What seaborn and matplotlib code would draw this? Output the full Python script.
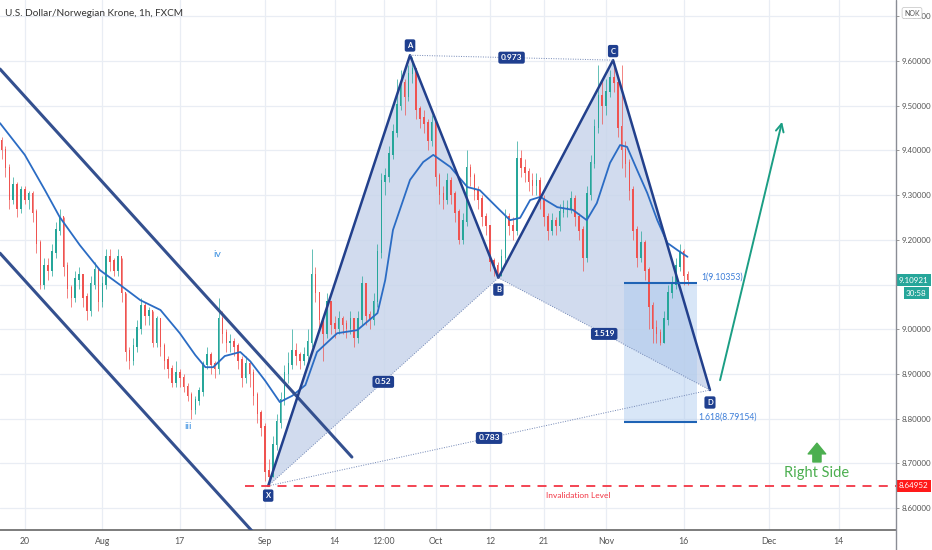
import numpy as np
import matplotlib
matplotlib.use("Agg")
import matplotlib.pyplot as plt
import seaborn as sns
from matplotlib.patches import Polygon, Rectangle
from matplotlib.lines import Line2D

# x axis = trading days counted from Sep 1 (weekends compressed, as on the chart)
first_open = 9.42
closes = [
    9.40, 9.36, 9.29, 9.32, 9.27, 9.31, 9.29, 9.30, 9.26, 9.19,
    9.10, 9.14, 9.13, 9.17, 9.22, 9.25, 9.14, 9.09, 9.07, 9.11,
    9.12, 9.07, 9.04, 9.10, 9.13, 9.06, 9.10, 9.16, 9.15, 9.13,
    9.16, 9.08, 8.95, 8.93, 8.96, 9.00, 9.05, 9.03, 9.04, 8.97,
    9.02, 8.96, 8.93, 8.91, 8.88, 8.90, 8.89, 8.87, 8.85, 8.82,
    8.84, 8.86, 8.92, 8.94, 8.92, 8.91, 9.02, 8.99, 8.97, 8.97,
    8.96, 8.93, 8.89, 8.92, 8.90, 8.85, 8.81, 8.78, 8.68, 8.67,
    8.74, 8.79, 8.84, 8.90, 8.92, 8.95, 8.94, 8.93, 8.94, 8.97,
    9.12, 9.08, 9.02, 8.99, 9.06, 9.01, 9.00, 9.02, 9.01, 9.00,
    9.02, 8.98, 9.02, 9.10, 9.03, 9.02, 9.06, 9.17, 9.33, 9.34,
    9.39, 9.44, 9.50, 9.55, 9.52, 9.57, 9.58, 9.49, 9.47, 9.46,
    9.42, 9.46, 9.34, 9.30, 9.29, 9.33, 9.30, 9.26, 9.20, 9.24,
    9.36, 9.34, 9.31, 9.29, 9.25, 9.23, 9.15, 9.14, 9.12, 9.16,
    9.25, 9.23, 9.22, 9.38, 9.36, 9.35, 9.33, 9.32, 9.33, 9.29,
    9.25, 9.22, 9.24, 9.23, 9.26, 9.27, 9.27, 9.29, 9.25, 9.22,
    9.16, 9.30, 9.37, 9.45, 9.52, 9.50, 9.53, 9.56, 9.55, 9.45,
    9.40, 9.37, 9.31, 9.22, 9.16, 9.19, 9.13, 9.05, 9.00, 8.99,
    8.97, 9.02, 9.08, 9.10, 9.14, 9.17, 9.12, 9.11,
]
highs = [
    9.43, 9.41, 9.37, 9.34, 9.33, 9.32, 9.32, 9.31, 9.31, 9.27,
    9.20, 9.16, 9.16, 9.19, 9.24, 9.27, 9.25, 9.15, 9.10, 9.13,
    9.14, 9.12, 9.08, 9.12, 9.15, 9.13, 9.12, 9.18, 9.18, 9.16,
    9.18, 9.16, 9.08, 8.96, 8.98, 9.02, 9.07, 9.06, 9.05, 9.04,
    9.03, 9.02, 8.97, 8.94, 8.92, 8.93, 8.91, 8.90, 8.88, 8.86,
    8.85, 8.87, 8.93, 8.96, 8.95, 8.93, 9.07, 9.04, 9.00, 8.99,
    8.98, 8.97, 8.94, 8.94, 8.93, 8.91, 8.86, 8.82, 8.79, 8.71,
    8.76, 8.81, 8.86, 8.92, 8.95, 9.00, 8.97, 8.95, 8.96, 9.00,
    9.18, 9.14, 9.08, 9.02, 9.08, 9.06, 9.03, 9.04, 9.03, 9.02,
    9.04, 9.02, 9.04, 9.12, 9.10, 9.04, 9.08, 9.19, 9.35, 9.36,
    9.41, 9.46, 9.56, 9.58, 9.56, 9.59, 9.61, 9.58, 9.50, 9.49,
    9.47, 9.48, 9.46, 9.35, 9.32, 9.35, 9.34, 9.31, 9.27, 9.26,
    9.40, 9.37, 9.35, 9.32, 9.30, 9.26, 9.23, 9.16, 9.15, 9.18,
    9.27, 9.26, 9.25, 9.42, 9.40, 9.38, 9.36, 9.35, 9.35, 9.34,
    9.30, 9.26, 9.26, 9.25, 9.28, 9.29, 9.29, 9.31, 9.30, 9.26,
    9.23, 9.32, 9.39, 9.47, 9.59, 9.56, 9.56, 9.58, 9.60, 9.56,
    9.59, 9.42, 9.38, 9.32, 9.23, 9.22, 9.20, 9.14, 9.06, 9.02,
    9.00, 9.04, 9.10, 9.12, 9.16, 9.19, 9.18, 9.13,
]
lows = [
    9.38, 9.34, 9.27, 9.28, 9.25, 9.26, 9.28, 9.27, 9.24, 9.17,
    9.09, 9.09, 9.11, 9.12, 9.16, 9.21, 9.12, 9.07, 9.05, 9.06,
    9.09, 9.05, 9.02, 9.03, 9.09, 9.04, 9.05, 9.09, 9.13, 9.12,
    9.12, 9.06, 8.93, 8.91, 8.92, 8.95, 8.99, 9.01, 9.01, 8.96,
    8.96, 8.94, 8.91, 8.89, 8.87, 8.87, 8.87, 8.86, 8.84, 8.80,
    8.81, 8.83, 8.85, 8.91, 8.90, 8.89, 8.90, 8.97, 8.95, 8.95,
    8.94, 8.91, 8.87, 8.88, 8.87, 8.83, 8.79, 8.76, 8.66, 8.65,
    8.67, 8.73, 8.78, 8.83, 8.88, 8.91, 8.92, 8.91, 8.92, 8.93,
    8.96, 9.06, 9.00, 8.93, 8.98, 8.99, 8.98, 8.99, 8.99, 8.98,
    8.99, 8.96, 8.97, 9.01, 9.01, 9.00, 9.01, 9.05, 9.16, 9.30,
    9.33, 9.38, 9.43, 9.49, 9.48, 9.51, 9.55, 9.47, 9.45, 9.44,
    9.40, 9.41, 9.32, 9.28, 9.27, 9.28, 9.28, 9.24, 9.19, 9.19,
    9.23, 9.32, 9.29, 9.27, 9.23, 9.21, 9.13, 9.12, 9.115, 9.12,
    9.15, 9.21, 9.20, 9.21, 9.34, 9.33, 9.31, 9.30, 9.30, 9.27,
    9.23, 9.20, 9.21, 9.21, 9.22, 9.25, 9.25, 9.26, 9.23, 9.20,
    9.13, 9.15, 9.29, 9.36, 9.44, 9.46, 9.48, 9.52, 9.53, 9.43,
    9.36, 9.34, 9.29, 9.20, 9.14, 9.15, 9.11, 9.00, 8.97, 8.97,
    8.965, 8.97, 9.01, 9.07, 9.09, 9.13, 9.10, 9.10,
]
candle_days = np.arange(-34.0, 54.6, 0.5)

ma_days = [-34.2, -31.0, -28.4, -26.5, -23.9, -21.3, -18.7, -16.1, -13.5, -11.0,
           -9.0, -7.7, -6.7, -5.2, -3.2, -1.9, 0.0, 1.9, 3.5, 5.2,
           6.7, 9.3, 11.9, 14.5, 15.5, 16.5, 18.7, 20.4, 21.7, 23.9,
           26.1, 27.7, 29.9, 31.6, 32.9, 34.2, 35.5, 37.7, 39.7, 41.5,
           42.8, 44.5, 45.8, 46.7, 48.0, 49.3, 50.6, 51.9, 53.2, 54.5]
ma_vals = [9.461, 9.390, 9.311, 9.251, 9.188, 9.132, 9.099, 9.065, 9.043, 8.991,
           8.942, 8.915, 8.915, 8.940, 8.949, 8.928, 8.885, 8.837, 8.851, 8.875,
           8.949, 8.991, 8.998, 9.036, 9.110, 9.222, 9.334, 9.374, 9.390, 9.363,
           9.318, 9.311, 9.273, 9.244, 9.249, 9.289, 9.296, 9.273, 9.267, 9.244,
           9.282, 9.372, 9.412, 9.408, 9.356, 9.305, 9.244, 9.193, 9.177, 9.162]

# XABCD pattern points (day, price)
pattern_names = ["X", "A", "B", "C", "D"]
pattern_days = [0.4, 18.7, 30.1, 44.9, 57.4]
pattern_prices = [8.6495, 9.613, 9.115, 9.602, 8.864]
ratio_labels = {"0.52": ("X", "B"), "0.973": ("A", "C"),
                "1.519": ("B", "D"), "0.783": ("X", "D")}

# descending channel (day, price) end points
channel_upper = [(-34.2, 9.582), (11.2, 8.714)]
channel_lower = [(-34.2, 9.170), (-1.5, 8.545)]

invalidation = 8.64952
last_price = 9.10921
box_days = [46.3, 55.7]
box_prices = [8.79154, 9.10353]
target_arrow = [(58.7, 8.886), (66.7, 9.464)]

x_tick_days = [-31, -21, -11, 0, 9, 15.3, 22, 29, 36, 44, 54, 65, 74]
x_tick_labels = ["20", "Aug", "17", "Sep", "14", "12:00", "Oct", "12", "21",
                 "Nov", "16", "Dec", "14"]
price_grid = [8.6, 8.7, 8.8, 8.9, 9.0, 9.1, 9.2, 9.3, 9.4, 9.5, 9.6, 9.7]

UP = "#26a69a"
DOWN = "#ef5350"
NAVY = "#1f3f8f"
AXIS_FONT = ["Liberation Sans Narrow", "Lato", "DejaVu Sans"]


def main():
    sns.set_style("white")
    plt.rcParams["font.family"] = ["Lato", "DejaVu Sans"]

    fig = plt.figure(figsize=(9.32, 5.5), dpi=100)
    ax = fig.add_axes([0, 20 / 550, 896 / 932, 530 / 550])
    ax.set_xlim(-34.2, 81.4)
    ax.set_ylim(8.5508, 9.7365)

    # grid
    for p in price_grid:
        ax.axhline(p, color="#e9edf4", lw=0.9, zorder=0)
    for d in x_tick_days:
        ax.axvline(d, color="#e9edf4", lw=0.9, zorder=0)

    # pattern fills
    pts = dict(zip(pattern_names, zip(pattern_days, pattern_prices)))
    ax.add_patch(Polygon([pts["X"], pts["A"], pts["B"]], closed=True,
                         fc="#c6d3ea", ec="none", alpha=0.8, zorder=1))
    ax.add_patch(Polygon([pts["B"], pts["C"], pts["D"]], closed=True,
                         fc="#c6d3ea", ec="none", alpha=0.8, zorder=1))
    ax.add_patch(Rectangle((box_days[0], box_prices[0]), box_days[1] - box_days[0],
                           box_prices[1] - box_prices[0], fc="#a9c8ee",
                           ec="none", alpha=0.45, zorder=1))

    # candles
    c = np.array(closes)
    o = np.array([first_open] + closes[:-1])
    cols = np.where(c >= o, UP, DOWN)
    ax.vlines(candle_days, lows, highs, colors=cols, lw=0.5, zorder=3)
    ax.bar(candle_days, np.abs(c - o) + 0.004, bottom=np.minimum(o, c),
           width=0.2, color=cols, lw=0, zorder=3)

    # moving average
    sns.lineplot(x=ma_days, y=ma_vals, ax=ax, color="#2b6cc4", lw=1.3,
                 estimator=None, sort=False, zorder=4)

    # channel
    for seg in (channel_upper, channel_lower):
        ax.plot([seg[0][0], seg[1][0]], [seg[0][1], seg[1][1]],
                color="#34508f", lw=2.2, zorder=4)

    # pattern legs
    ax.plot(pattern_days, pattern_prices, color="#22408c", lw=1.8, zorder=5)
    for txt, (a, b) in ratio_labels.items():
        (xa, ya), (xb, yb) = pts[a], pts[b]
        ax.plot([xa, xb], [ya, yb], color="#7186b5", lw=0.7,
                ls=(0, (1, 1.5)), zorder=5)
        ax.text((xa + xb) / 2, (ya + yb) / 2, txt, ha="center", va="center",
                color="white", fontsize=6, fontweight="bold", zorder=7,
                bbox=dict(boxstyle="round,pad=0.3,rounding_size=0.25",
                          fc=NAVY, ec="none"))
    offsets = {"X": -7, "A": 7, "B": -8.5, "C": 6.5, "D": -9}
    for name in pattern_names:
        ax.annotate(name, pts[name], xytext=(0, offsets[name]),
                    textcoords="offset points", ha="center", va="center",
                    color="white", fontsize=5.5, fontweight="bold", zorder=7,
                    bbox=dict(boxstyle="round,pad=0.35,rounding_size=0.25",
                              fc=NAVY, ec="none"))

    # target box lines
    ax.hlines(box_prices, box_days[0], box_days[1], colors="#1e63b5", lw=1.5,
              zorder=5)
    ax.text(box_days[1] + 0.6, box_prices[1] + 0.012, "1(9.10353)", color="#3b7dd8",
            fontsize=6.2, va="center", ha="left", zorder=6)
    ax.text(box_days[1] + 0.2, box_prices[0] + 0.012, "1.618(8.79154)",
            color="#3b7dd8", fontsize=6.2, va="center", ha="left", zorder=6)

    # invalidation level
    ax.hlines(invalidation, -2.6, 81.4, colors="#f23645", lw=1.3,
              linestyles=(0, (5, 4)), zorder=5)
    ax.text(40.4, 8.627, "Invalidation Level", color="#f23645", fontsize=6,
            ha="center", va="center")

    # projected move
    ax.annotate("", xy=target_arrow[1], xytext=target_arrow[0],
                arrowprops=dict(arrowstyle="->", color="#1b9e84", lw=1.4,
                                mutation_scale=14, shrinkA=0, shrinkB=0),
                zorder=6)
    ax.annotate("", xy=(71.2, 8.745), xytext=(71.2, 8.703),
                arrowprops=dict(arrowstyle="simple,head_width=0.9,head_length=0.55,tail_width=0.42",
                                color="#4caf50", mutation_scale=14,
                                shrinkA=0, shrinkB=0))
    ax.text(71.2, 8.678, "Right Side", color="#4caf50", fontsize=10.5,
            ha="center", va="center")

    # wave labels
    ax.text(-6.2, 9.168, "iv", color="#3a8fe0", fontsize=7.5, ha="center", va="center")
    ax.text(-9.9, 8.783, "iii", color="#3a8fe0", fontsize=7.5, ha="center", va="center")

    # axes styling
    ax.set_xticks(x_tick_days)
    ax.set_xticklabels(x_tick_labels)
    tick_prices = [p for p in price_grid if p != 9.1]
    ax.yaxis.tick_right()
    ax.set_yticks(tick_prices)
    ax.set_yticklabels([f"{p:.5f}" for p in tick_prices], family=AXIS_FONT)
    ax.tick_params(axis="x", length=0, pad=5, labelsize=6.3, colors="#555555")
    ax.tick_params(axis="y", length=2.5, width=0.6, pad=1.2, labelsize=5.8,
                   colors="#555555", color="#888888")
    for s in ("top", "left", "right"):
        ax.spines[s].set_visible(False)
    ax.spines["bottom"].set_color("#666666")
    ax.spines["bottom"].set_linewidth(1.2)
    ax.set_xlabel("")
    ax.set_ylabel("")
    fig.add_artist(Line2D([896 / 932] * 2, [0, 1], color="#8a8d95", lw=1.0))

    # right-axis price tags
    tag = dict(xycoords=("axes fraction", "data"), textcoords="offset points",
               va="center", fontsize=5.8, zorder=8, annotation_clip=False,
               family=AXIS_FONT)
    ax.annotate(f"{last_price:.5f}", xy=(1, last_price), xytext=(1.8, 0),
                ha="left", color="white",
                bbox=dict(boxstyle="square,pad=0.3", fc=UP, ec="none"), **tag)
    ax.annotate("30:58", xy=(1, last_price - 0.029), xytext=(22.0, 0),
                ha="right", color="white",
                bbox=dict(boxstyle="square,pad=0.3", fc=UP, ec="none"), **tag)
    ax.annotate(f"{invalidation:.5f}", xy=(1, invalidation), xytext=(1.8, 0),
                ha="left", color="white",
                bbox=dict(boxstyle="square,pad=0.3", fc="#ff1a1a", ec="none"), **tag)

    fig.text(912 / 932, 1 - 13 / 550, "NOK", fontsize=5, color="#555555",
             ha="center", va="center",
             bbox=dict(boxstyle="round,pad=0.3", fc="white", ec="#cccccc", lw=0.6))
    fig.text(5 / 932, 1 - 13 / 550, "U.S. Dollar/Norwegian Krone, 1h, FXCM",
             fontsize=7.2, color="#333333", ha="left", va="center")

    fig.savefig("out.png", dpi=100)
    plt.close(fig)


if __name__ == "__main__":
    main()
